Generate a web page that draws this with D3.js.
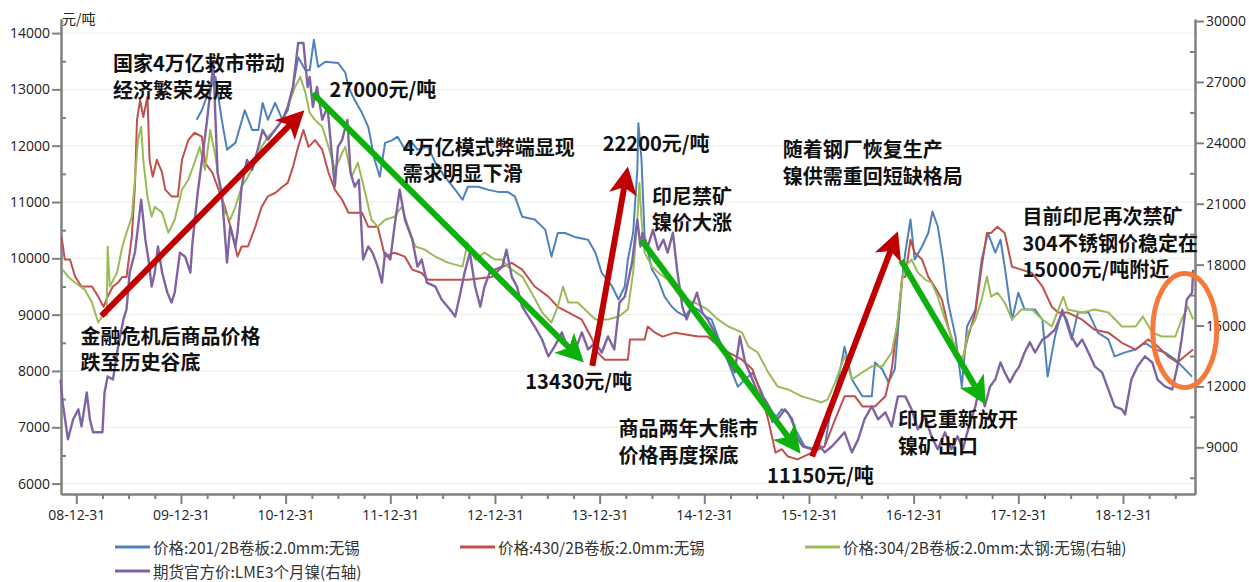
<!DOCTYPE html>
<html>
<head>
<meta charset="utf-8">
<script src="https://cdn.jsdelivr.net/npm/d3@7"></script>
<style>
body { margin: 0; background: #fff; }
text { font-family: "Noto Sans CJK SC", "Open Sans", sans-serif; }
</style>
</head>
<body>
<script>
// x values are decimal years (2009.0 = 08-12-31)
var yearTicks = [2009, 2010, 2011, 2012, 2013, 2014, 2015, 2016, 2017, 2018, 2019];
var yearLabels = ["08-12-31", "09-12-31", "10-12-31", "11-12-31", "12-12-31", "13-12-31",
  "14-12-31", "15-12-31", "16-12-31", "17-12-31", "18-12-31"];
var leftTicks = [6000, 7000, 8000, 9000, 10000, 11000, 12000, 13000, 14000];
var rightTicks = [9000, 12000, 15000, 18000, 21000, 24000, 27000, 30000];

// 价格:201/2B卷板:2.0mm:无锡 (left axis)
var s201 = [[2010.15,12460],[2010.20,12630],[2010.26,12940],[2010.33,13220],[2010.39,12460],[2010.44,11930],[2010.52,12050],[2010.61,12630],[2010.68,12280],[2010.74,12280],[2010.78,12760],[2010.83,12460],[2010.90,12760],[2010.97,12460],[2011.02,12630],[2011.07,13040],[2011.12,13570],[2011.19,13340],[2011.23,13340],[2011.27,13880],[2011.31,13400],[2011.38,13490],[2011.50,13470],[2011.57,13300],[2011.60,13040],[2011.66,12810],[2011.73,12580],[2011.79,12330],[2011.85,11750],[2011.90,11450],[2011.95,12050],[2012.02,12100],[2012.07,12160],[2012.14,11930],[2012.21,12050],[2012.26,11930],[2012.36,11980],[2012.43,11700],[2012.52,11450],[2012.62,11220],[2012.69,11040],[2012.74,11270],[2012.84,11270],[2012.93,11220],[2013.03,11180],[2013.12,11180],[2013.19,11100],[2013.26,10740],[2013.38,10690],[2013.48,10510],[2013.54,10030],[2013.60,10450],[2013.67,10450],[2013.76,10380],[2013.89,10330],[2013.96,10100],[2014.02,9740],[2014.12,9500],[2014.18,9270],[2014.24,9500],[2014.27,9980],[2014.32,10450],[2014.36,11570],[2014.37,12400],[2014.40,11750],[2014.43,10380],[2014.50,9800],[2014.56,9620],[2014.62,9320],[2014.69,9140],[2014.75,9040],[2014.82,8970],[2014.88,9140],[2014.94,9090],[2015.01,8970],[2015.07,8910],[2015.13,8610],[2015.23,8150],[2015.32,7720],[2015.39,7850],[2015.46,7970],[2015.55,7620],[2015.65,7090],[2015.74,7320],[2015.80,7260],[2015.87,6960],[2015.96,6660],[2016.06,6610],[2016.15,6660],[2016.22,7440],[2016.28,7850],[2016.34,8430],[2016.41,7850],[2016.51,7550],[2016.60,7550],[2016.63,8150],[2016.70,8030],[2016.76,7800],[2016.82,8030],[2016.89,9620],[2016.92,10100],[2016.97,10690],[2017.01,9980],[2017.08,10210],[2017.14,10450],[2017.18,10830],[2017.23,10570],[2017.28,9980],[2017.33,9210],[2017.40,8610],[2017.46,7720],[2017.51,8790],[2017.59,9090],[2017.65,9980],[2017.71,10450],[2017.78,10100],[2017.83,10330],[2017.87,9850],[2017.94,8910],[2018.00,9390],[2018.06,9090],[2018.16,9090],[2018.23,8910],[2018.28,7900],[2018.35,8610],[2018.42,9090],[2018.51,8560],[2018.57,9040],[2018.67,9040],[2018.76,8680],[2018.86,8560],[2018.92,8260],[2019.02,8330],[2019.12,8380],[2019.21,8500],[2019.31,8380],[2019.40,8330],[2019.50,8200],[2019.56,8090],[2019.66,7900]];

// 价格:430/2B卷板:2.0mm:无锡 (left axis)
var s430 = [[2008.86,10380],[2008.89,9980],[2008.94,9980],[2008.99,9670],[2009.05,9500],[2009.15,9500],[2009.21,9320],[2009.26,9140],[2009.30,9320],[2009.35,9500],[2009.40,9570],[2009.44,9670],[2009.48,9670],[2009.53,10380],[2009.56,11270],[2009.58,12460],[2009.61,12810],[2009.64,12510],[2009.68,12870],[2009.70,11750],[2009.73,11450],[2009.77,11750],[2009.82,11520],[2009.85,11220],[2009.91,11100],[2009.97,11100],[2010.01,11750],[2010.07,12100],[2010.13,12230],[2010.20,12160],[2010.23,11700],[2010.30,11520],[2010.35,11270],[2010.42,10910],[2010.49,10450],[2010.54,10030],[2010.58,10210],[2010.64,10210],[2010.71,10560],[2010.77,10910],[2010.83,11100],[2010.90,11160],[2010.97,11270],[2011.02,11340],[2011.07,11620],[2011.12,11980],[2011.17,12280],[2011.22,11980],[2011.28,12100],[2011.35,11930],[2011.41,11520],[2011.47,11220],[2011.54,11040],[2011.60,10810],[2011.73,10810],[2011.79,10560],[2011.88,10560],[2011.95,10030],[2012.04,10100],[2012.14,10030],[2012.21,9800],[2012.30,9740],[2012.36,9620],[2012.49,9620],[2012.74,9620],[2012.97,9670],[2013.07,9850],[2013.16,9920],[2013.26,9800],[2013.38,9500],[2013.51,9320],[2013.60,9140],[2013.70,9040],[2013.83,8910],[2013.93,8560],[2013.98,8330],[2014.05,8200],[2014.27,8200],[2014.29,8560],[2014.43,8560],[2014.46,8790],[2014.53,8680],[2014.60,8610],[2014.72,8680],[2014.94,8610],[2015.03,8610],[2015.10,8500],[2015.23,8330],[2015.36,8200],[2015.46,8030],[2015.55,7550],[2015.61,7140],[2015.68,6550],[2015.74,6610],[2015.80,6480],[2015.89,6430],[2016.03,6550],[2016.15,6660],[2016.25,7140],[2016.34,7550],[2016.44,7550],[2016.51,7370],[2016.63,7370],[2016.73,7550],[2016.79,8030],[2016.85,8910],[2016.89,9670],[2016.92,9670],[2016.97,10330],[2017.01,10100],[2017.08,9980],[2017.14,9670],[2017.20,9500],[2017.27,9270],[2017.33,8790],[2017.40,8330],[2017.46,8150],[2017.52,8610],[2017.59,9040],[2017.65,9850],[2017.70,10450],[2017.74,10450],[2017.80,10560],[2017.87,10450],[2017.94,9850],[2018.03,9800],[2018.13,9740],[2018.23,9500],[2018.32,9140],[2018.38,9040],[2018.47,9040],[2018.61,8910],[2018.73,8730],[2018.86,8680],[2018.99,8500],[2019.12,8380],[2019.24,8560],[2019.33,8440],[2019.43,8260],[2019.52,8150],[2019.59,8260],[2019.67,8380]];

// 价格:304/2B卷板:2.0mm:太钢:无锡 (right axis)
var s304 = [[2008.87,17750],[2008.92,17410],[2008.99,17110],[2009.08,16770],[2009.15,16130],[2009.21,15150],[2009.27,15640],[2009.29,15500],[2009.30,18890],[2009.32,16920],[2009.39,17610],[2009.44,18890],[2009.48,19570],[2009.53,20360],[2009.56,22180],[2009.59,24150],[2009.62,24790],[2009.64,23160],[2009.68,21340],[2009.72,20360],[2009.75,20850],[2009.82,20560],[2009.88,19570],[2009.94,20210],[2010.01,21690],[2010.07,22180],[2010.13,23020],[2010.18,23800],[2010.23,22670],[2010.28,24640],[2010.33,23310],[2010.37,21840],[2010.42,20560],[2010.47,20210],[2010.52,20850],[2010.58,21840],[2010.64,22330],[2010.71,23020],[2010.77,23800],[2010.83,24300],[2010.90,24640],[2010.97,25130],[2011.02,25770],[2011.09,26750],[2011.14,27250],[2011.19,26460],[2011.23,25480],[2011.28,25130],[2011.35,24790],[2011.41,23800],[2011.47,22670],[2011.54,23510],[2011.57,23800],[2011.63,22330],[2011.69,23020],[2011.76,21540],[2011.82,20210],[2011.88,19870],[2011.95,20210],[2012.04,20360],[2012.11,20850],[2012.17,19870],[2012.24,18890],[2012.33,18740],[2012.43,18390],[2012.55,18100],[2012.69,17900],[2012.74,19080],[2012.81,18250],[2012.90,18590],[2013.00,18250],[2013.07,18250],[2013.12,17900],[2013.26,17410],[2013.35,16620],[2013.45,15640],[2013.54,15150],[2013.60,15930],[2013.65,16920],[2013.70,16130],[2013.79,16130],[2013.89,15640],[2013.96,15300],[2014.08,15300],[2014.18,15440],[2014.27,15790],[2014.32,17610],[2014.36,20210],[2014.38,22030],[2014.40,20210],[2014.43,18590],[2014.50,17900],[2014.56,17610],[2014.65,17260],[2014.79,16280],[2014.91,16130],[2015.03,15790],[2015.13,15300],[2015.23,14950],[2015.36,14660],[2015.42,13970],[2015.51,13670],[2015.61,12690],[2015.70,12000],[2015.80,11850],[2015.93,11510],[2016.03,11360],[2016.12,11210],[2016.18,11360],[2016.25,12200],[2016.34,13480],[2016.41,12340],[2016.51,12690],[2016.60,12990],[2016.70,12990],[2016.79,13670],[2016.84,14950],[2016.89,17260],[2016.92,17900],[2016.98,18250],[2017.04,17610],[2017.11,17260],[2017.17,17110],[2017.23,16420],[2017.30,15300],[2017.36,14460],[2017.42,13670],[2017.47,13330],[2017.52,14660],[2017.59,15300],[2017.65,16280],[2017.70,17410],[2017.74,16420],[2017.80,16620],[2017.87,16130],[2017.94,15300],[2018.03,15790],[2018.13,15790],[2018.23,15300],[2018.32,14950],[2018.43,16420],[2018.47,15790],[2018.61,15640],[2018.73,15790],[2018.86,15640],[2018.99,14950],[2019.12,14950],[2019.19,15440],[2019.28,14660],[2019.37,14460],[2019.50,14460],[2019.56,15300],[2019.62,15930],[2019.67,15300]];

// 期货官方价:LME3个月镍 (right axis)
var sLME = [[2008.85,12340],[2008.87,11210],[2008.92,9390],[2008.97,10380],[2009.02,10870],[2009.05,10030],[2009.10,11700],[2009.13,10380],[2009.16,9740],[2009.25,9740],[2009.27,11700],[2009.30,12490],[2009.35,12340],[2009.40,13970],[2009.45,15300],[2009.48,15790],[2009.51,17610],[2009.56,18590],[2009.59,19870],[2009.62,21200],[2009.66,19230],[2009.69,18250],[2009.72,16920],[2009.75,17610],[2009.78,18890],[2009.82,17610],[2009.87,16620],[2009.91,16130],[2009.94,16620],[2009.99,18590],[2010.04,18390],[2010.09,17610],[2010.11,19080],[2010.16,21540],[2010.21,23510],[2010.25,25130],[2010.31,27930],[2010.33,25130],[2010.35,22530],[2010.39,21540],[2010.44,18100],[2010.47,19870],[2010.52,18890],[2010.54,19570],[2010.58,21840],[2010.63,23160],[2010.68,22670],[2010.74,23800],[2010.78,24640],[2010.83,24150],[2010.90,24640],[2010.97,25130],[2011.02,25770],[2011.07,26750],[2011.12,28920],[2011.17,28920],[2011.21,26750],[2011.23,27250],[2011.26,25770],[2011.30,26750],[2011.35,25130],[2011.40,25770],[2011.44,23510],[2011.47,21840],[2011.50,23800],[2011.54,24150],[2011.59,25130],[2011.62,22530],[2011.66,21840],[2011.70,22180],[2011.74,18250],[2011.79,18890],[2011.83,18590],[2011.88,17900],[2011.92,17110],[2011.95,18590],[2012.00,18250],[2012.04,19870],[2012.09,21690],[2012.14,20210],[2012.21,19230],[2012.26,17900],[2012.30,18250],[2012.35,17110],[2012.43,16920],[2012.49,16280],[2012.57,15790],[2012.62,15440],[2012.67,16620],[2012.71,17610],[2012.76,18590],[2012.81,16920],[2012.86,15930],[2012.90,16920],[2012.95,17610],[2013.00,17750],[2013.07,17900],[2013.11,18740],[2013.16,17410],[2013.21,16920],[2013.26,15930],[2013.32,15440],[2013.38,14950],[2013.45,14310],[2013.51,13480],[2013.57,13970],[2013.64,14660],[2013.70,13820],[2013.76,13670],[2013.83,14660],[2013.89,13820],[2013.96,14170],[2014.02,13670],[2014.08,14460],[2014.14,13820],[2014.19,16130],[2014.24,16420],[2014.31,18100],[2014.36,20210],[2014.39,18890],[2014.41,19570],[2014.46,18890],[2014.51,19720],[2014.56,18740],[2014.61,19230],[2014.65,18590],[2014.70,19570],[2014.74,17750],[2014.79,15930],[2014.83,15300],[2014.88,15930],[2014.93,16620],[2014.98,15640],[2015.03,15300],[2015.10,14660],[2015.17,13820],[2015.23,13330],[2015.29,12690],[2015.34,14460],[2015.39,13180],[2015.46,12340],[2015.51,11700],[2015.58,11360],[2015.65,10720],[2015.70,10380],[2015.77,10870],[2015.84,10380],[2015.88,9540],[2015.94,9050],[2016.03,8900],[2016.08,9250],[2016.15,8750],[2016.22,9050],[2016.28,9390],[2016.34,9740],[2016.41,8750],[2016.47,9390],[2016.53,10380],[2016.60,11020],[2016.66,10380],[2016.73,10720],[2016.79,10030],[2016.85,11510],[2016.92,11510],[2016.98,10870],[2017.04,9880],[2017.11,10530],[2017.17,9540],[2017.23,8900],[2017.30,9740],[2017.36,8900],[2017.42,9540],[2017.47,8900],[2017.52,9880],[2017.59,11020],[2017.63,12000],[2017.68,11020],[2017.73,12000],[2017.78,12340],[2017.83,13180],[2017.87,12690],[2017.92,12200],[2017.97,12690],[2018.01,12990],[2018.06,13670],[2018.11,14170],[2018.16,13670],[2018.23,14310],[2018.28,14460],[2018.35,14800],[2018.42,15640],[2018.46,15300],[2018.51,14460],[2018.56,13970],[2018.61,14310],[2018.67,13670],[2018.73,12990],[2018.80,12690],[2018.86,11850],[2018.92,11020],[2018.99,10870],[2019.02,10620],[2019.08,12340],[2019.14,12990],[2019.21,13480],[2019.28,13180],[2019.33,12340],[2019.40,12000],[2019.47,11850],[2019.52,12990],[2019.56,14310],[2019.61,16280],[2019.66,16620],[2019.67,17750]];

var seriesNames = ["价格:201/2B卷板:2.0mm:无锡", "价格:430/2B卷板:2.0mm:无锡",
  "价格:304/2B卷板:2.0mm:太钢:无锡(右轴)", "期货官方价:LME3个月镍(右轴)"];
var seriesColors = ["#4f81bd", "#c0504d", "#9bbb59", "#8064a2"];

// annotations, positioned in [year, left-axis value]
var notes = [
  {at: [2009.35, 13470], lines: ["国家4万亿救市带动", "经济繁荣发展"]},
  {at: [2011.42, 13020], lines: ["27000元/吨"]},
  {at: [2012.12, 11990], lines: ["4万亿模式弊端显现", "需求明显下滑"]},
  {at: [2014.03, 12060], lines: ["22200元/吨"]},
  {at: [2014.50, 11120], lines: ["印尼禁矿", "镍价大涨"]},
  {at: [2015.75, 11950], lines: ["随着钢厂恢复生产", "镍供需重回短缺格局"]},
  {at: [2009.04, 8630], lines: ["金融危机后商品价格", "跌至历史谷底"]},
  {at: [2013.29, 7830], lines: ["13430元/吨"]},
  {at: [2014.18, 6990], lines: ["商品两年大熊市", "价格再度探底"]},
  {at: [2015.60, 6170], lines: ["11150元/吨"]},
  {at: [2016.85, 7150], lines: ["印尼重新放开", "镍矿出口"]},
  {at: [2018.04, 10760], lines: ["目前印尼再次禁矿", "304不锈钢价稳定在", "15000元/吨附近"]}
];
var upArrows = [[2009.24, 8980, 2011.18, 12630], [2013.93, 8090, 2014.27, 11630], [2016.03, 6480, 2016.85, 10480]];
var downArrows = [[2011.26, 12930, 2013.85, 8150], [2014.40, 10320, 2015.92, 6530], [2016.88, 9960, 2017.69, 7400]];
var circleAt = [2019.59, 8720];

var svg = d3.select("body").append("svg")
  .attr("width", 1249)
  .attr("height", 582);

var x = d3.scaleLinear().domain([2008.854, 2019.688]).range([61, 1195]);
var yL = d3.scaleLinear().domain([5815, 14250]).range([494, 19]);
var yR = d3.scaleLinear().domain([6700, 30100]).range([494, 19]);

// grid
svg.append("g").selectAll("line").data(leftTicks).join("line")
  .attr("x1", 61).attr("x2", 1195)
  .attr("y1", d => yL(d)).attr("y2", d => yL(d))
  .attr("stroke", "#ebebeb").attr("stroke-width", 1);

function styleAxis(g) {
  g.select(".domain").attr("stroke", "#808080").attr("stroke-width", 2);
  g.selectAll(".tick line").attr("stroke", "#808080").attr("stroke-width", 2);
  g.selectAll(".tick text").attr("fill", "#222").style("font-size", "14px")
    .style("font-family", "'Open Sans', 'Noto Sans CJK SC', sans-serif");
}

var leftMinor = d3.range(6500, 14250, 1000);
var rightMinor = d3.range(7500, 30100, 3000);
var xMinor = d3.range(2009.25, 2019.6, 0.25).filter(d => Math.abs(d - Math.round(d)) > 0.01);

svg.append("g").attr("transform", "translate(61,0)")
  .call(d3.axisLeft(yL).tickValues(leftMinor).tickSize(-5).tickSizeOuter(0).tickFormat(""))
  .call(styleAxis);
svg.append("g").attr("transform", "translate(61,0)")
  .call(d3.axisLeft(yL).tickValues(leftTicks).tickSize(9).tickSizeOuter(0).tickPadding(2)
    .tickFormat(d3.format("d")))
  .call(styleAxis);

svg.append("g").attr("transform", "translate(1195,0)")
  .call(d3.axisRight(yR).tickValues(rightMinor).tickSize(-5).tickSizeOuter(0).tickFormat(""))
  .call(styleAxis);
svg.append("g").attr("transform", "translate(1195,0)")
  .call(d3.axisRight(yR).tickValues(rightTicks).tickSize(9).tickSizeOuter(0).tickPadding(2)
    .tickFormat(d3.format("d")))
  .call(styleAxis);

svg.append("g").attr("transform", "translate(0,494)")
  .call(d3.axisBottom(x).tickValues(xMinor).tickSize(5).tickSizeOuter(0).tickFormat(""))
  .call(styleAxis);
svg.append("g").attr("transform", "translate(0,494)")
  .call(d3.axisBottom(x).tickValues(yearTicks).tickSize(10).tickSizeOuter(0).tickPadding(6)
    .tickFormat((d, i) => yearLabels[i]))
  .call(styleAxis);

svg.append("text").attr("x", 62).attr("y", 18)
  .attr("dominant-baseline", "central")
  .style("font-size", "14px").attr("fill", "#222")
  .text("元/吨");

// series
var lineL = d3.line().x(d => x(d[0])).y(d => yL(d[1]));
var lineR = d3.line().x(d => x(d[0])).y(d => yR(d[1]));
var allSeries = [[s201, lineL], [s430, lineL], [s304, lineR], [sLME, lineR]];
allSeries.forEach(function(s, i) {
  svg.append("path")
    .attr("d", s[1](s[0]))
    .attr("fill", "none")
    .attr("stroke", seriesColors[i])
    .attr("stroke-width", i == 3 ? 2.4 : 2)
    .attr("stroke-linejoin", "round");
});

// arrows
function arrow(a, color) {
  var x1 = x(a[0]), y1 = yL(a[1]), x2 = x(a[2]), y2 = yL(a[3]);
  var len = Math.hypot(x2 - x1, y2 - y1);
  var ux = (x2 - x1) / len, uy = (y2 - y1) / len;
  var nx = -uy, ny = ux;
  var L = 28, hw = 14, notch = 7;
  svg.append("line")
    .attr("x1", x1).attr("y1", y1)
    .attr("x2", x2 - ux * (L - notch)).attr("y2", y2 - uy * (L - notch))
    .attr("stroke", color).attr("stroke-width", 6);
  var pts = [
    [x2, y2],
    [x2 - ux * L + nx * hw, y2 - uy * L + ny * hw],
    [x2 - ux * (L - notch), y2 - uy * (L - notch)],
    [x2 - ux * L - nx * hw, y2 - uy * L - ny * hw]
  ];
  svg.append("polygon")
    .attr("points", pts.map(p => p.join(",")).join(" "))
    .attr("fill", color);
}
upArrows.forEach(a => arrow(a, "#c00000"));
downArrows.forEach(a => arrow(a, "#0db00d"));

// notes
notes.forEach(function(n) {
  var t = svg.append("text")
    .attr("x", x(n.at[0]))
    .attr("y", yL(n.at[1]))
    .attr("fill", "#111")
    .style("font-size", "20px")
    .style("font-weight", "bold");
  n.lines.forEach(function(l, i) {
    t.append("tspan")
      .attr("x", x(n.at[0]))
      .attr("y", yL(n.at[1]) + i * 26.5)
      .attr("dominant-baseline", "central")
      .text(l);
  });
});

svg.append("ellipse")
  .attr("cx", x(circleAt[0])).attr("cy", yL(circleAt[1]))
  .attr("rx", 32).attr("ry", 57)
  .attr("fill", "none")
  .attr("stroke", "#f47a3c")
  .attr("stroke-width", 5);

// legend
var legendPos = [[115, 547], [460, 547], [805, 547], [115, 571]];
seriesNames.forEach(function(name, i) {
  var p = legendPos[i];
  svg.append("line")
    .attr("x1", p[0]).attr("x2", p[0] + 35)
    .attr("y1", p[1]).attr("y2", p[1])
    .attr("stroke", seriesColors[i]).attr("stroke-width", 3);
  svg.append("text")
    .attr("x", p[0] + 38).attr("y", p[1])
    .attr("dominant-baseline", "central")
    .attr("fill", "#333")
    .style("font-size", "15.5px")
    .text(name);
});
</script>
</body>
</html>
